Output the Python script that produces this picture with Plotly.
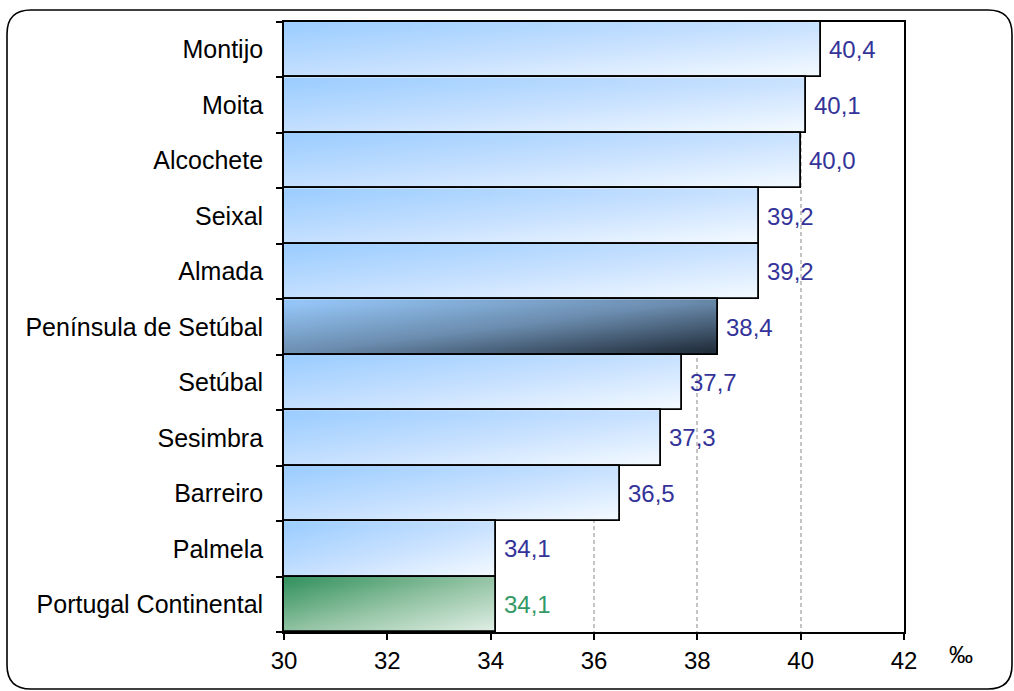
import plotly.graph_objects as go

# Municipalities of the Setúbal peninsula, top to bottom
categories = [
    "Montijo", "Moita", "Alcochete", "Seixal", "Almada",
    "Península de Setúbal", "Setúbal", "Sesimbra", "Barreiro",
    "Palmela", "Portugal Continental",
]
values = [40.4, 40.1, 40.0, 39.2, 39.2, 38.4, 37.7, 37.3, 36.5, 34.1, 34.1]
x_ticks = [30, 32, 34, 36, 38, 40, 42]

BASE = 30
X_MAX = 42
REGION = "Península de Setúbal"
COUNTRY = "Portugal Continental"

FONT = "Liberation Sans, Arial, sans-serif"
FS = 24
FS_CAT = 25
W, H = 1014, 691
ML, MR, MT, MB = 284, 110, 22, 59

# Diagonal gradients (top-left -> bottom-right) for each bar style
SCALE_DEFAULT = [[0, "#99ccff"], [0.5, "#c6e0ff"], [1, "#f6fbff"]]
SCALE_REGION = [[0, "#99ccff"], [0.5, "#6b8cae"], [1, "#1a2430"]]
SCALE_COUNTRY = [[0, "#2f8f5b"], [0.5, "#92c3a3"], [1, "#e4f1e8"]]

LABEL_BLUE = "#333399"
LABEL_GREEN = "#339966"

NU, NV = 24, 6  # gradient grid resolution per bar

fig = go.Figure()

for i, (cat, v) in enumerate(zip(categories, values)):
    if cat == REGION:
        scale = SCALE_REGION
    elif cat == COUNTRY:
        scale = SCALE_COUNTRY
    else:
        scale = SCALE_DEFAULT
    xe = [BASE + (v - BASE) * c / NU for c in range(NU + 1)]
    ye = [i - 0.5 + r / NV for r in range(NV + 1)]
    z = [[((c + 0.5) / NU + (r + 0.5) / NV) / 2 for c in range(NU)] for r in range(NV)]
    fig.add_trace(go.Heatmap(
        x=xe, y=ye, z=z, zmin=0, zmax=1, colorscale=scale,
        zsmooth="best", showscale=False, hoverinfo="skip",
    ))

# Bar outlines on top of the gradient fills
fig.add_trace(go.Bar(
    y=list(range(len(categories))),
    x=[v - BASE for v in values],
    base=BASE,
    orientation="h",
    width=1.0,
    marker=dict(color="rgba(0,0,0,0)", line=dict(color="black", width=1.8)),
    hovertext=categories,
    showlegend=False,
))

# Value labels
for i, (cat, v) in enumerate(zip(categories, values)):
    fig.add_annotation(
        x=v, y=i, xref="x", yref="y",
        text=f"{v:.1f}".replace(".", ","),
        xanchor="left", yanchor="middle", xshift=6, showarrow=False,
        font=dict(family=FONT, size=FS, color=LABEL_GREEN if cat == COUNTRY else LABEL_BLUE),
    )

# Unit label next to the x axis
fig.add_annotation(
    x=(961 - ML) / (W - ML - MR), y=-(654 - (H - MB)) / (H - MT - MB),
    xref="paper", yref="paper", text="‰", showarrow=False,
    xanchor="center", yanchor="middle",
    font=dict(family=FONT, size=FS, color="black"),
)

# Rounded outer frame
pw, ph = W - ML - MR, H - MT - MB


def px(xp):
    return (xp - ML) / pw


def py(yp):
    return (H - MB - yp) / ph


x0, x1, y0, y1, r = 7, 1012, 10, 689, 24
path = (
    f"M {px(x0 + r)},{py(y0)} L {px(x1 - r)},{py(y0)} "
    f"Q {px(x1)},{py(y0)} {px(x1)},{py(y0 + r)} "
    f"L {px(x1)},{py(y1 - r)} Q {px(x1)},{py(y1)} {px(x1 - r)},{py(y1)} "
    f"L {px(x0 + r)},{py(y1)} Q {px(x0)},{py(y1)} {px(x0)},{py(y1 - r)} "
    f"L {px(x0)},{py(y0 + r)} Q {px(x0)},{py(y0)} {px(x0 + r)},{py(y0)} Z"
)
fig.add_shape(type="path", path=path, xref="paper", yref="paper",
              line=dict(color="black", width=1.6), layer="above")

fig.update_layout(
    width=W, height=H,
    margin=dict(l=ML, r=MR, t=MT, b=MB),
    paper_bgcolor="white", plot_bgcolor="white",
    showlegend=False,
    bargap=0,
    font=dict(family=FONT, size=FS, color="black"),
    xaxis=dict(
        range=[BASE, X_MAX], tickvals=x_ticks, ticktext=[str(t) for t in x_ticks],
        ticks="outside", ticklen=6, tickwidth=1.6, tickcolor="black",
        showline=True, linecolor="black", linewidth=1.8, mirror=True,
        showgrid=True, gridcolor="#c4c4c4", griddash="4px,3px", gridwidth=1.5,
        zeroline=False, tickfont=dict(family=FONT, size=FS, color="black"),
        fixedrange=True,
    ),
    yaxis=dict(
        range=[len(categories) - 0.5, -0.5],
        tickvals=list(range(len(categories))), ticktext=categories,
        ticks="", ticklabelstandoff=14,
        minor=dict(tickmode="array", tickvals=[k - 0.5 for k in range(len(categories) + 1)],
                   ticks="outside", ticklen=6, tickwidth=1.6, tickcolor="black", showgrid=False),
        showline=True, linecolor="black", linewidth=1.8, mirror=True,
        showgrid=False, zeroline=False,
        tickfont=dict(family=FONT, size=FS_CAT, color="black"),
        fixedrange=True,
    ),
)

fig.write_html("out.html")
